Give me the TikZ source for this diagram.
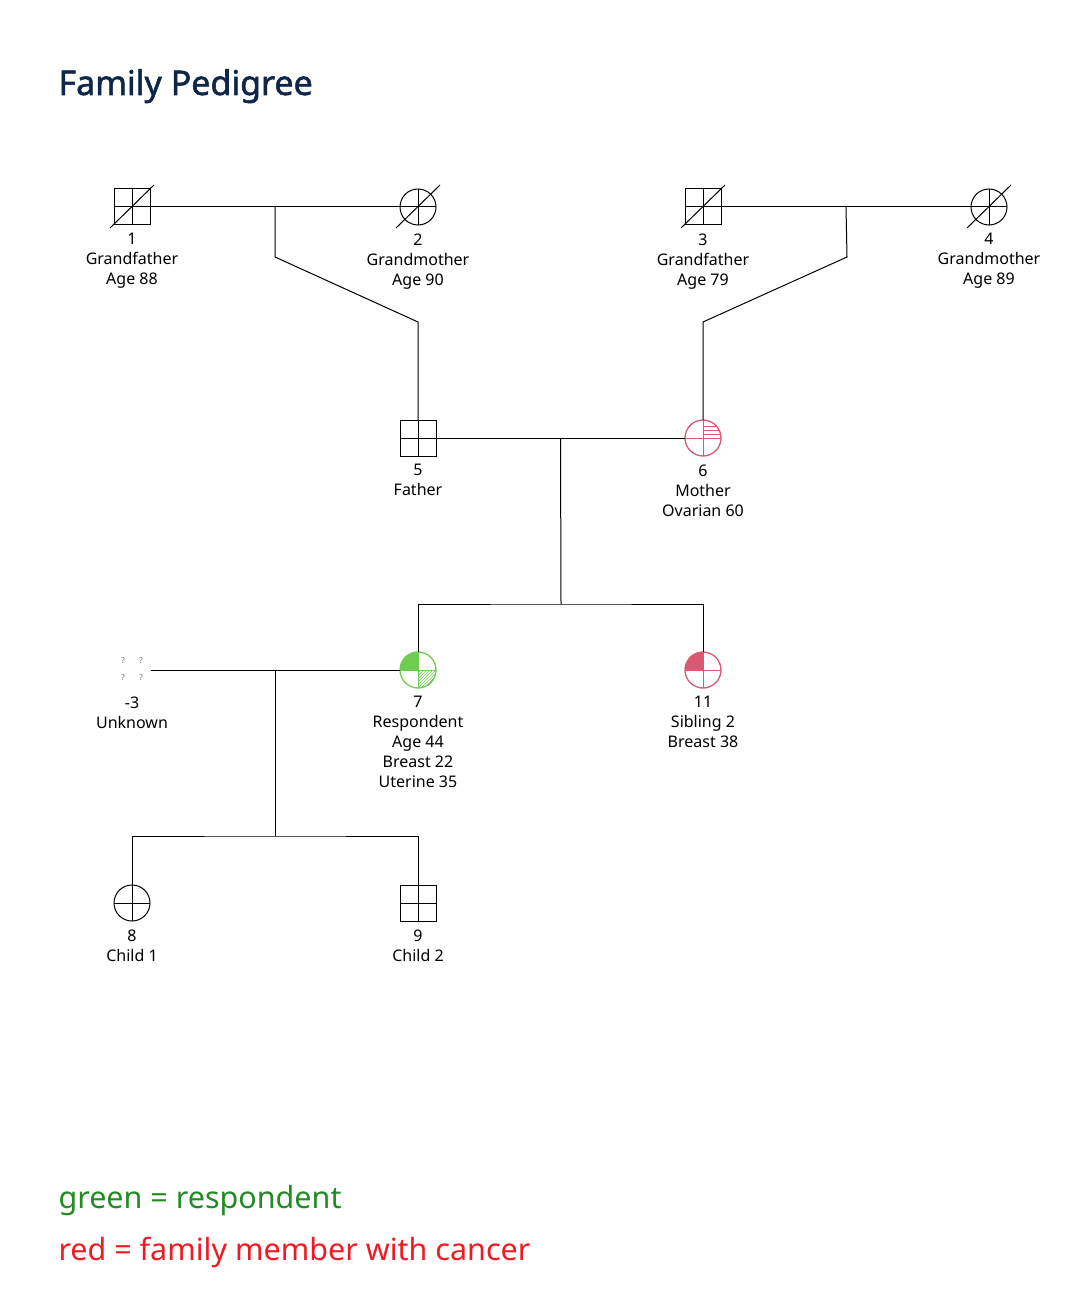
\documentclass[tikz,border=0pt]{standalone}
\usepackage{fontspec}
\setmainfont{Noto Sans}
\newfontfamily\titlefont[FakeBold=1.6]{Noto Sans}
\usetikzlibrary{positioning, patterns, calc}

\definecolor{titleblue}{RGB}{15,38,72}
\definecolor{legendgreen}{RGB}{34,139,34}
\definecolor{legendred}{RGB}{237,28,36}
\definecolor{cancer}{RGB}{220,88,112}
\definecolor{resp}{RGB}{110,205,80}

\begin{document}
\begin{tikzpicture}[x=1pt, y=-1pt, line width=1pt]
	\tikzset{person/.style={draw, minimum size=36pt, inner sep=0pt, outer sep=0pt},
		male/.style={person, rectangle}, female/.style={person, circle},
		lbl/.style={font=\fontsize{16}{20}\selectfont, align=center, inner sep=0pt},
		qmark/.style={font=\fontsize{8}{8}\selectfont, text=gray!80!black, inner sep=0pt} }
	\useasboundingbox (0,0) rectangle (1083,1289);

	\node[anchor=base west, inner sep=0pt, text=titleblue, font=\fontsize{34}{36}\selectfont\titlefont] (title) at (58,95) {Family Pedigree};

	% grandparents
	\node[male] (p1) at (132,207) {};
	\node[female] (p2) at (418,207) {};
	\node[male] (p3) at (703,207) {};
	\node[female] (p4) at (989,207) {};
	% parents
	\node[male] (p5) at (418,438) {};
	\node[female, draw=cancer] (p6) at (703,438) {};
	% respondent generation
	\node[inner sep=0pt, minimum size=36pt] (pu) at (132,670) {};
	\node[female, draw=resp] (p7) at (418,670) {};
	\node[female, draw=cancer] (p11) at (703,670) {};
	% children
	\node[female] (p8) at (132,903) {};
	\node[male] (p9) at (418,903) {};

	% unknown partner
	\node[qmark] at ($(pu)+(-9,-9)$) {?};
	\node[qmark] at ($(pu)+(9,-9)$) {?};
	\node[qmark] at ($(pu)+(-9,8)$) {?};
	\node[qmark] at ($(pu)+(9,8)$) {?};

	% affected quadrants
	\begin{scope}
		\clip (p6.center) circle[radius=18pt];
		\foreach \h in {4,8,12}
			\draw[cancer] ([yshift=\h pt]p6.center) -- ++(18,0);
	\end{scope}
	\begin{scope}
		\clip (p7.center) circle[radius=18pt];
		\fill[resp] (p7.center) rectangle ++(-18,-18);
		\fill[pattern=north east lines, pattern color=resp] (p7.center) rectangle ++(18,18);
	\end{scope}
	\begin{scope}
		\clip (p11.center) circle[radius=18pt];
		\fill[cancer] (p11.center) rectangle ++(-18,-18);
	\end{scope}

	% crosses
	\foreach \p/\c in {p1/black, p2/black, p3/black, p4/black, p5/black, p6/cancer, p7/resp, p11/cancer, p8/black, p9/black}
		\draw[\c] (\p.north) -- (\p.south) (\p.west) -- (\p.east);
	\foreach \p/\c in {p6/cancer, p7/resp, p11/cancer}
		\draw[\c] (\p.center) circle[radius=18pt];

	% deceased
	\foreach \p in {p1, p2, p3, p4}
		\draw ([shift={(-22,21)}]\p.center) -- ([shift={(22,-22)}]\p.center);

	% labels
	\node[lbl, below=8pt of p1] (l1) {1\\Grandfather\\Age 88};
	\node[lbl, below=8pt of p2] (l2) {2\\Grandmother\\Age 90};
	\node[lbl, below=8pt of p3] (l3) {3\\Grandfather\\Age 79};
	\node[lbl, below=8pt of p4] (l4) {4\\Grandmother\\Age 89};
	\node[lbl, below=8pt of p5] (l5) {5\\Father};
	\node[lbl, below=8pt of p6] (l6) {6\\Mother\\Ovarian 60};
	\node[lbl, below=8pt of pu] (lu) {-3\\Unknown};
	\node[lbl, below=8pt of p7] (l7) {7\\Respondent\\Age 44\\Breast 22\\Uterine 35};
	\node[lbl, below=8pt of p11] (l11) {11\\Sibling 2\\Breast 38};
	\node[lbl, below=8pt of p8] (l8) {8\\Child 1};
	\node[lbl, below=8pt of p9] (l9) {9\\Child 2};

	% couples and descent lines
	\coordinate (c12) at ($(p1)!0.5!(p2)$);
	\coordinate (c34) at ($(p3)!0.5!(p4)$);
	\coordinate (c56) at ($(p5)!0.5!(p6)$);
	\coordinate (cu7) at ($(pu)!0.5!(p7)$);
	\coordinate (k12) at (275,257);
	\coordinate (j5) at (418,322);
	\coordinate (k34) at (847,257);
	\coordinate (j6) at (703,322);
	\coordinate (s56) at (561,604);
	\coordinate (su7) at (275,836);

	\draw (p1) -- (p2);
	\draw (p3) -- (p4);
	\draw (p5) -- (p6);
	\draw (pu) -- (p7);
	\draw (c12) -- (k12) -- (j5) -- (p5);
	\draw (c34) -- (k34) -- (j6) -- (p6);
	\draw (c56) -- (s56);
	\draw (p7) |- (s56) -| (p11);
	\draw (cu7) -- (su7);
	\draw (p8) |- (su7) -| (p9);

	% legend
	\node[anchor=base west, inner sep=0pt, text=legendgreen, font=\fontsize{30.5}{32}\selectfont] (lgreen) at (58,1208) {green = respondent};
	\node[anchor=base west, inner sep=0pt, text=legendred, font=\fontsize{30.5}{32}\selectfont] (lred) at (58,1260) {red = family member with cancer};
\end{tikzpicture}
\end{document}
